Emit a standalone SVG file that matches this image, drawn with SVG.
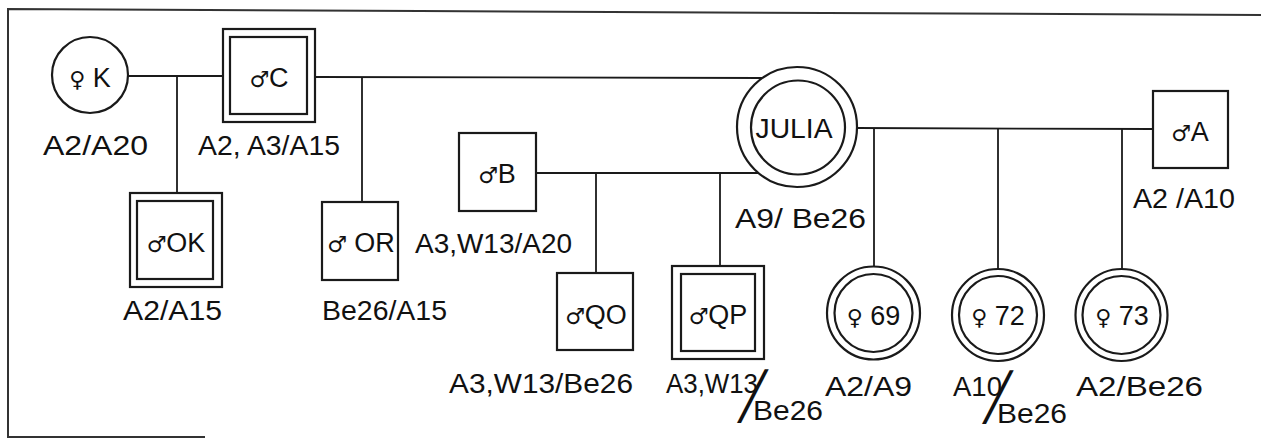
<svg xmlns="http://www.w3.org/2000/svg" width="1261" height="439" viewBox="0 0 1261 439">
<style>
.frame{fill:none;stroke:#333;stroke-width:2}
.ln{fill:none;stroke:#1a1a1a;stroke-width:1.8}
.box{fill:#fff;stroke:#1a1a1a;stroke-width:2.2}
.nt{font-family:"Liberation Sans",Arial,sans-serif;font-size:27px;fill:#111;text-anchor:middle}
.sym{font-family:"DejaVu Sans",sans-serif;font-size:22px}
.lb{font-family:"Liberation Sans",Arial,sans-serif;font-size:28px;fill:#111}
.sl{font-family:"DejaVu Sans Mono",monospace;font-size:46px}
</style>
<rect width="1261" height="439" fill="#fff"/>
<g id="frame">
<path class="frame" d="M1261,15 L420,11 L8,9 L8,437 L205,437"/>
</g>
<g id="connectors">
<line class="ln" x1="128" y1="76" x2="223" y2="76"/>
<line class="ln" x1="177" y1="76" x2="177" y2="193"/>
<line class="ln" x1="315" y1="77" x2="762" y2="78"/>
<line class="ln" x1="362" y1="77" x2="362" y2="202"/>
<line class="ln" x1="536" y1="173" x2="760" y2="173"/>
<line class="ln" x1="596" y1="173" x2="596" y2="273"/>
<line class="ln" x1="720" y1="173" x2="720" y2="266"/>
<line class="ln" x1="857" y1="128" x2="1153" y2="129"/>
<line class="ln" x1="874" y1="128" x2="874" y2="267"/>
<line class="ln" x1="998" y1="128" x2="998" y2="269"/>
<line class="ln" x1="1122" y1="129" x2="1122" y2="269"/>
</g>
<g id="K">
<circle class="box" cx="90" cy="75" r="38"/>
<text class="nt" x="90" y="87"><tspan class="sym">♀</tspan> K</text>
<text class="lb" x="43" y="155" textLength="105" lengthAdjust="spacingAndGlyphs">A2/A20</text>
</g>
<g id="C">
<rect class="box" x="223" y="29" width="92" height="93"/>
<rect class="box" x="230" y="37" width="77" height="77"/>
<text class="nt" x="269" y="87"><tspan class="sym">♂</tspan>C</text>
<text class="lb" x="198" y="155" textLength="142" lengthAdjust="spacingAndGlyphs">A2, A3/A15</text>
</g>
<g id="OK">
<rect class="box" x="130" y="193" width="92" height="94"/>
<rect class="box" x="137" y="201" width="76" height="78"/>
<text class="nt" x="176" y="252"><tspan class="sym">♂</tspan>OK</text>
<text class="lb" x="123" y="320" textLength="99" lengthAdjust="spacingAndGlyphs">A2/A15</text>
</g>
<g id="OR">
<rect class="box" x="322" y="202" width="76" height="78"/>
<text class="nt" x="361" y="252"><tspan class="sym">♂</tspan> OR</text>
<text class="lb" x="322" y="320" textLength="125" lengthAdjust="spacingAndGlyphs">Be26/A15</text>
</g>
<g id="B">
<rect class="box" x="459" y="133" width="77" height="78"/>
<text class="nt" x="497" y="183"><tspan class="sym">♂</tspan>B</text>
<text class="lb" x="415" y="253" textLength="157" lengthAdjust="spacingAndGlyphs">A3,W13/A20</text>
</g>
<g id="JULIA">
<circle class="box" cx="797" cy="127" r="60"/>
<circle class="box" cx="798" cy="127.5" r="47"/>
<text class="nt" x="794" y="138" textLength="77" lengthAdjust="spacingAndGlyphs">JULIA</text>
<text class="lb" x="735" y="228" textLength="131" lengthAdjust="spacingAndGlyphs">A9/ Be26</text>
</g>
<g id="A">
<rect class="box" x="1153" y="91" width="75" height="77"/>
<text class="nt" x="1190" y="141"><tspan class="sym">♂</tspan>A</text>
<text class="lb" x="1133" y="208" textLength="102" lengthAdjust="spacingAndGlyphs">A2 /A10</text>
</g>
<g id="QO">
<rect class="box" x="557" y="273" width="76" height="77"/>
<text class="nt" x="596" y="324"><tspan class="sym">♂</tspan>QO</text>
<text class="lb" x="449" y="393" textLength="184" lengthAdjust="spacingAndGlyphs">A3,W13/Be26</text>
</g>
<g id="QP">
<rect class="box" x="672" y="266" width="92" height="93"/>
<rect class="box" x="681" y="274" width="74" height="77"/>
<text class="nt" x="718" y="324"><tspan class="sym">♂</tspan>QP</text>
<text class="lb" x="666" y="393"><tspan textLength="92" lengthAdjust="spacingAndGlyphs">A3,W13</tspan><tspan class="sl" x="739" y="412">╱</tspan><tspan x="753" y="420" textLength="70" lengthAdjust="spacingAndGlyphs">Be26</tspan></text>
</g>
<g id="F69">
<circle class="box" cx="873.5" cy="313" r="46.5"/>
<circle class="box" cx="873.5" cy="313" r="39"/>
<text class="nt" x="873.5" y="325"><tspan class="sym">♀</tspan> 69</text>
<text class="lb" x="825" y="396" textLength="87" lengthAdjust="spacingAndGlyphs">A2/A9</text>
</g>
<g id="F72">
<circle class="box" cx="998" cy="315" r="46"/>
<circle class="box" cx="998" cy="315" r="39"/>
<text class="nt" x="998" y="325"><tspan class="sym">♀</tspan> 72</text>
<text class="lb" x="953" y="396"><tspan textLength="49" lengthAdjust="spacingAndGlyphs">A10</tspan><tspan class="sl" x="984" y="413">╱</tspan><tspan x="997" y="423" textLength="70" lengthAdjust="spacingAndGlyphs">Be26</tspan></text>
</g>
<g id="F73">
<circle class="box" cx="1121.5" cy="315" r="46"/>
<circle class="box" cx="1121.5" cy="315" r="39"/>
<text class="nt" x="1122" y="325"><tspan class="sym">♀</tspan> 73</text>
<text class="lb" x="1076" y="396" textLength="127" lengthAdjust="spacingAndGlyphs">A2/Be26</text>
</g>
</svg>
